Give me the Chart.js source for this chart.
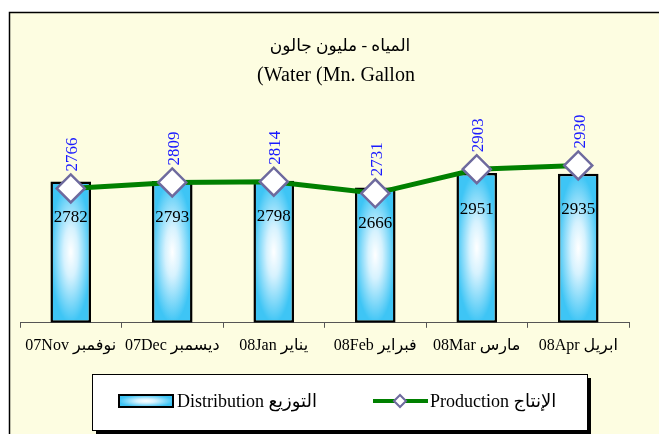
<!DOCTYPE html>
<html><head><meta charset="utf-8">
<script src="https://cdn.jsdelivr.net/npm/chart.js@4.4.0/dist/chart.umd.min.js"></script>
<style>html,body{margin:0;padding:0;background:#fff}canvas{display:block}</style>
</head><body>
<canvas id="c" width="659" height="434"></canvas>
<script>
// ---- data ----
const categories = ['07Nov نوفمبر', '07Dec ديسمبر', '08Jan يناير', '08Feb فبراير', '08Mar مارس', '08Apr ابريل'];
const distribution = [2782, 2793, 2798, 2666, 2951, 2935];
const production = [2766, 2809, 2814, 2731, 2903, 2930];
const titleLines = ['المياه - مليون جالون', '(Water (Mn. Gallon'];
const seriesNames = ['Distribution التوزيع', 'Production الإنتاج'];

// ---- styles ----
const SERIF = "'Liberation Serif', 'DejaVu Sans', serif";
const FRAME_BG = '#FDFDE1';
const EDGE = '#3ec5f5';
const GREEN = '#008000';
const DIAMOND = '#6e6a9e';

function gradientPattern(ctx, left, top, w, h) {
  const oc = document.createElement('canvas');
  oc.width = Math.max(1, Math.ceil(w)); oc.height = Math.max(1, Math.ceil(h));
  const g = oc.getContext('2d');
  g.fillStyle = EDGE; g.fillRect(0, 0, oc.width, oc.height);
  g.save(); g.translate(w / 2, h / 2); g.scale(w / 2, h / 2);
  const rg = g.createRadialGradient(0, 0, 0, 0, 0, 1);
  rg.addColorStop(0, '#ffffff'); rg.addColorStop(0.35, '#d6f2fe'); rg.addColorStop(1, EDGE);
  g.fillStyle = rg; g.fillRect(-1, -1, 2, 2); g.restore();
  const p = ctx.createPattern(oc, 'no-repeat');
  p.setTransform(new DOMMatrix([1, 0, 0, 1, left, top]));
  return p;
}

const framePlugin = {
  id: 'frame',
  beforeDraw(chart) {
    const ctx = chart.ctx;
    ctx.save();
    ctx.fillStyle = '#fff'; ctx.fillRect(0, 0, chart.width, chart.height);
    ctx.fillStyle = FRAME_BG; ctx.fillRect(9, 12, chart.width, chart.height);
    ctx.strokeStyle = '#000'; ctx.lineWidth = 1.5;
    ctx.strokeRect(9.5, 12.5, chart.width + 10, chart.height + 10);
    // title
    ctx.fillStyle = '#000'; ctx.textAlign = 'center'; ctx.textBaseline = 'middle';
    ctx.font = "17px " + SERIF;
    ctx.fillText(titleLines[0], 340, 47);
    ctx.font = "20px " + SERIF;
    ctx.fillText(titleLines[1], 336, 76);
    ctx.restore();
  },
  afterDatasetsDraw(chart) {
    const ctx = chart.ctx;
    ctx.save();
    ctx.font = "17px " + SERIF;
    const barMeta = chart.getDatasetMeta(1);
    ctx.fillStyle = '#000'; ctx.textAlign = 'center'; ctx.textBaseline = 'middle';
    barMeta.data.forEach((el, i) => ctx.fillText(String(distribution[i]), el.x, el.y + 36));
    const lineMeta = chart.getDatasetMeta(0);
    ctx.fillStyle = '#1a1aff';
    lineMeta.data.forEach((el, i) => {
      ctx.save();
      ctx.translate(el.x + 2, el.y - 17);
      ctx.rotate(-Math.PI / 2);
      ctx.textAlign = 'left';
      ctx.fillText(String(production[i]), 0, 0);
      ctx.restore();
    });
    ctx.restore();
  },
  afterDraw(chart) {
    const ctx = chart.ctx;
    ctx.save();
    // legend box with shadow
    ctx.fillStyle = '#000'; ctx.fillRect(96, 378, 495, 60);
    ctx.fillStyle = '#fff'; ctx.fillRect(92, 374, 495, 56);
    ctx.strokeStyle = '#000'; ctx.lineWidth = 1; ctx.strokeRect(92.5, 374.5, 495, 56);
    // bar symbol
    ctx.fillStyle = gradientPattern(ctx, 119, 395, 54, 12);
    ctx.fillRect(119, 395, 54, 12);
    ctx.lineWidth = 2; ctx.strokeStyle = '#000'; ctx.strokeRect(119, 395, 54, 12);
    ctx.fillStyle = '#000'; ctx.font = "18px " + SERIF; ctx.textBaseline = 'middle'; ctx.textAlign = 'left';
    ctx.fillText(seriesNames[0], 177, 402);
    // line symbol
    ctx.strokeStyle = GREEN; ctx.lineWidth = 4;
    ctx.beginPath(); ctx.moveTo(373, 401); ctx.lineTo(428, 401); ctx.stroke();
    ctx.beginPath(); ctx.moveTo(394, 401); ctx.lineTo(400, 395); ctx.lineTo(406, 401); ctx.lineTo(400, 407); ctx.closePath();
    ctx.fillStyle = '#fff'; ctx.fill(); ctx.strokeStyle = DIAMOND; ctx.lineWidth = 2; ctx.stroke();
    ctx.fillStyle = '#000';
    ctx.fillText(seriesNames[1], 430, 402);
    ctx.restore();
  }
};

new Chart(document.getElementById('c'), {
  data: {
    labels: categories,
    datasets: [
      {
        type: 'line', label: seriesNames[1], data: production, yAxisID: 'y1',
        borderColor: GREEN, borderWidth: 5, tension: 0, fill: false,
        pointStyle: 'rectRot', pointRadius: 14, pointHoverRadius: 14,
        pointBackgroundColor: '#fff', pointBorderColor: DIAMOND, pointBorderWidth: 2.5,
        order: 0
      },
      {
        type: 'bar', label: seriesNames[0], data: distribution, yAxisID: 'y',
        borderColor: '#000', borderWidth: 2.5, borderSkipped: false,
        barPercentage: 0.4, categoryPercentage: 1,
        backgroundColor(c) {
          const chart = c.chart;
          if (c.type !== 'data' || !chart.chartArea) return '#8fdcf8';
          const xs = chart.scales.x, ys = chart.scales.y;
          const cx = xs.getPixelForValue(c.dataIndex);
          const w = xs.width / categories.length * 0.4;
          const top = ys.getPixelForValue(c.raw), bot = ys.getPixelForValue(0);
          return gradientPattern(chart.ctx, cx - w / 2, top, w, bot - top);
        },
        order: 1
      }
    ]
  },
  options: {
    responsive: false, devicePixelRatio: 1, animation: false,
    layout: { padding: { left: 20, right: 30, top: 100, bottom: 71 } },
    plugins: { legend: { display: false }, tooltip: { enabled: false }, title: { display: false } },
    scales: {
      x: {
        offset: true,
        grid: { display: true, offset: true, drawOnChartArea: false, drawTicks: true, tickLength: 5, color: '#555' },
        border: { display: true, color: '#555', width: 1 },
        ticks: { color: '#000', padding: 8, font: { family: SERIF, size: 16 }, maxRotation: 0, autoSkip: false }
      },
      y: { display: false, min: 0, max: 4390 },
      y1: { display: false, min: 1807, max: 3397 }
    }
  },
  plugins: [framePlugin]
});
</script>
</body></html>
